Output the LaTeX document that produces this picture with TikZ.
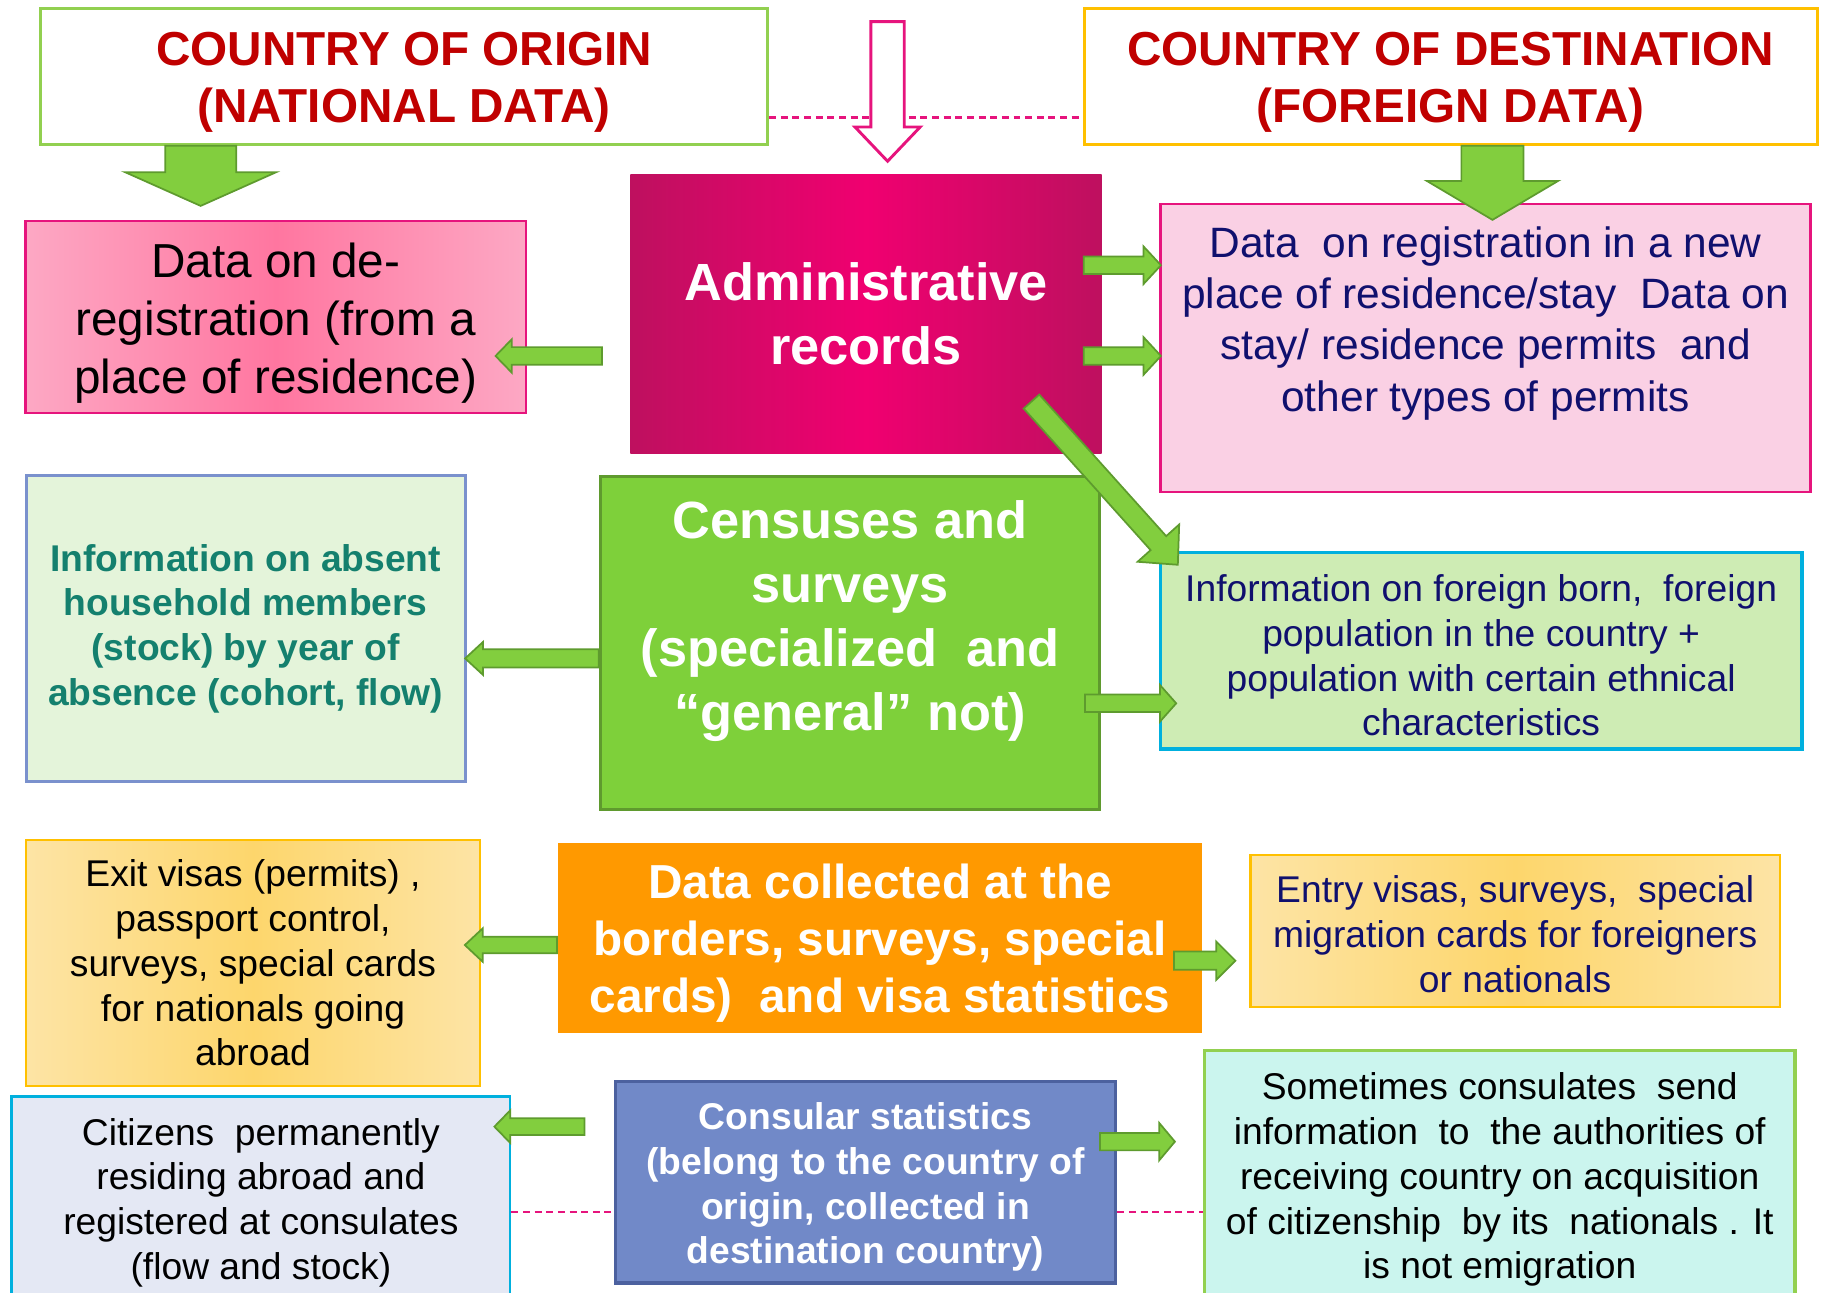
\documentclass[tikz,border=0pt]{standalone}
\usepackage{fontspec}
\setmainfont{Liberation Sans}
\usetikzlibrary{calc}

\definecolor{titlered}{RGB}{192,0,0}
\definecolor{origingreen}{RGB}{146,208,80}
\definecolor{destorange}{RGB}{255,192,0}
\definecolor{pinkline}{RGB}{230,20,125}
\definecolor{deregpink}{RGB}{255,118,160}
\definecolor{dereglight}{RGB}{253,168,196}
\definecolor{admindark}{RGB}{190,16,95}
\definecolor{adminbright}{RGB}{240,0,112}
\definecolor{regpink}{RGB}{250,208,228}
\definecolor{navytext}{RGB}{16,16,110}
\definecolor{absentfill}{RGB}{228,244,218}
\definecolor{absentblue}{RGB}{122,145,205}
\definecolor{tealtext}{RGB}{20,128,110}
\definecolor{censusgreen}{RGB}{126,208,58}
\definecolor{censusedge}{RGB}{95,154,46}
\definecolor{foreignfill}{RGB}{206,236,180}
\definecolor{cyanedge}{RGB}{0,176,222}
\definecolor{visalight}{RGB}{253,228,165}
\definecolor{visadeep}{RGB}{253,214,108}
\definecolor{bordorange}{RGB}{255,153,0}
\definecolor{citizenfill}{RGB}{228,232,244}
\definecolor{consularblue}{RGB}{113,137,200}
\definecolor{consularedge}{RGB}{76,97,159}
\definecolor{aquafill}{RGB}{203,245,238}
\definecolor{arrowfill}{RGB}{130,206,62}
\definecolor{arrowedge}{RGB}{94,155,46}

\tikzset{
  box/.style={draw, line width=2pt, align=center, inner sep=0pt},
  titletext/.style={font=\fontsize{41}{49}\selectfont\bfseries, text=titlered, align=center},
  bodytext/.style={font=\fontsize{32}{38.5}\selectfont, align=center},
  bodybold/.style={font=\fontsize{32}{38.5}\selectfont\bfseries, align=center},
  bigwhite/.style={font=\fontsize{45}{55}\selectfont\bfseries, text=white, align=center},
  greenarrow/.style={draw=arrowedge, fill=arrowfill, line width=1.5pt, line join=miter},
  pinkarrow/.style={draw=pinkline, fill=white, line width=2.5pt},
  pinkdash/.style={draw=pinkline, line width=1.8pt, dash pattern=on 6pt off 4pt}
}

% block arrow: [style]{tail}{tip}{shaft half width}{head half width}{head length}
\newcommand{\blockarrow}[6][]{%
  \coordinate (hb) at ($(#3)!#6pt!(#2)$);
  \draw[greenarrow,#1] ($(#2)!#4pt!90:(#3)$) -- ($(hb)!#4pt!90:(#3)$)
    -- ($(hb)!#5pt!90:(#3)$) -- (#3) -- ($(hb)!#5pt!-90:(#3)$)
    -- ($(hb)!#4pt!-90:(#3)$) -- ($(#2)!#4pt!-90:(#3)$) -- cycle;}

\begin{document}
\begin{tikzpicture}[x=1pt, y=-1pt]
\useasboundingbox (0,0) rectangle (1568,1111.5);

% Countries
\node[box, draw=origingreen, line width=2.5pt, minimum width=625pt, minimum height=117pt] (origin) at (347.5,65.5) {};
\node[titletext] (origintext) at ($(origin)+(0,5)$) {COUNTRY OF ORIGIN\\(NATIONAL DATA)};
\node[box, draw=destorange, line width=2.5pt, minimum width=630pt, minimum height=117pt] (dest) at (1247,65.5) {};
\node[titletext] (desttext) at ($(dest)+(0,5)$) {COUNTRY OF DESTINATION\\(FOREIGN DATA)};

\coordinate (dashtop) at (0,101);
\draw[pinkdash] (origin.east |- dashtop) -- (dest.west |- dashtop);

% Administrative records
\node[box, draw=pinkline, left color=dereglight, right color=dereglight, middle color=deregpink, minimum width=430pt, minimum height=165pt] (dereg) at (237,272.5) {};
\node[font=\fontsize{41}{50}\selectfont, align=center] (deregtext) at ($(dereg)+(0,5.5)$) {Data on de-\\registration (from a\\place of residence)};
\node[minimum width=405pt, minimum height=240pt, inner sep=0pt, left color=admindark, right color=admindark, middle color=adminbright, bigwhite] (admin) at (744.5,270) {Administrative\\records};
\node[box, draw=pinkline, fill=regpink, minimum width=559pt, minimum height=247.6pt] (reg) at (1277,299.4) {};
\node[font=\fontsize{36.5}{44}\selectfont, text=navytext, align=center] (regtext) at (1277,278) {Data~ on registration in a new\\place of residence/stay~ Data on\\stay/ residence permits~ and\\other types of permits};

% Censuses and surveys
\node[box, draw=absentblue, line width=2.5pt, fill=absentfill, minimum width=377.6pt, minimum height=263pt, bodybold, text=tealtext] (absent) at (211.2,540.5) {Information on absent\\household members\\(stock) by year of\\absence (cohort, flow)};
\node[box, draw=censusedge, line width=2.5pt, fill=censusgreen, minimum width=429.5pt, minimum height=286.5pt] (census) at (730.75,553) {};
\node[bigwhite] (censustext) at (730.75,533.5) {Censuses and\\surveys\\(specialized~ and\\“general” not)};
\node[box, draw=cyanedge, line width=3pt, fill=foreignfill, minimum width=551.5pt, minimum height=169.1pt] (foreign) at (1273.25,559.35) {};
\node[bodytext, text=navytext] (foreigntext) at ($(foreign)+(0,4)$) {Information on foreign born,~ foreign\\population in the country +\\population with certain ethnical\\characteristics};

% Borders
\node[box, draw=destorange, left color=visalight, right color=visalight, middle color=visadeep, minimum width=390.2pt, minimum height=211.6pt, bodytext] (exitv) at (217.5,827.8) {Exit visas (permits) ,\\passport control,\\surveys, special cards\\for nationals going\\abroad};
\node[fill=bordorange, inner sep=0pt, minimum width=553pt, minimum height=163.9pt] (datacol) at (756.5,806.35) {};
\node[font=\fontsize{41}{49}\selectfont\bfseries, text=white, align=center] (datacoltext) at ($(datacol)+(0,4)$) {Data collected at the\\borders, surveys, special\\cards)~ and visa statistics};
\node[box, draw=destorange, left color=visalight, right color=visalight, middle color=visadeep, minimum width=455pt, minimum height=130.4pt] (entry) at (1302.5,800.2) {};
\node[bodytext, text=navytext] (entrytext) at ($(entry)+(0,3)$) {Entry visas, surveys,~ special\\migration cards for foreigners\\or nationals};

% Consulates
\node[box, draw=cyanedge, fill=citizenfill, minimum width=428.6pt, minimum height=182.3pt, bodytext] (citizens) at (224.3,1033.85) {Citizens~ permanently\\residing abroad and\\registered at consulates\\(flow and stock)};
\node[box, draw=consularedge, line width=3pt, fill=consularblue, minimum width=430pt, minimum height=173.2pt] (consular) at (744,1016.4) {};
\node[bodybold, text=white] (consulartext) at ($(consular)+(0,4)$) {Consular statistics\\(belong to the country of\\origin, collected in\\destination country)};
\node[box, draw=origingreen, line width=3pt, fill=aquafill, minimum width=507.5pt, minimum height=221.8pt, bodytext] (sometimes) at (1289.25,1014.1) {Sometimes consulates~ send\\information~ to~ the authorities of\\receiving country on acquisition\\of citizenship~ by its~ nationals . It\\is not emigration};

\coordinate (dashlow) at (0,1041.6);
\draw[pinkdash] (citizens.east |- dashlow) -- (consular.west |- dashlow);
\draw[pinkdash] (consular.east |- dashlow) -- (sometimes.west |- dashlow);

% Arrows
\coordinate (top) at (763,18.6);
\coordinate (admtip) at ($(admin.north)+(18.5,-11.2)$);
\blockarrow[pinkarrow]{top}{admtip}{14.3}{28}{29.4}

\coordinate (orgS) at ($(origin.south)+(-175,0)$);
\coordinate (deregN) at ($(dereg.north)+(-64.5,-12)$);
\blockarrow{orgS}{deregN}{30.5}{65}{29}
\coordinate (destS) at ($(dest.south)+(36,0)$);
\coordinate (regN) at ($(reg.north)+(6,14.4)$);
\blockarrow{destS}{regN}{26.75}{56.5}{33.5}

\coordinate (admW) at ($(admin.west)+(-24.4,36)$);
\coordinate (deregE) at ($(dereg.east)+(-27,33.5)$);
\blockarrow{admW}{deregE}{7.6}{14.4}{14}
\coordinate (admE1) at ($(admin.east)+(-15.5,-42)$);
\coordinate (regW1) at ($(reg.west)+(1.5,-71.4)$);
\blockarrow{admE1}{regW1}{7.5}{16.2}{15}
\coordinate (admE2) at ($(admin.east)+(-15.5,36)$);
\coordinate (regW2) at ($(reg.west)+(1.5,6.6)$);
\blockarrow{admE2}{regW2}{7.5}{16.2}{15}
\coordinate (admSE) at ($(admin.south east)+(-60.5,-45)$);
\coordinate (forNW) at ($(foreign.north west)+(16.5,12.2)$);
\blockarrow{admSE}{forNW}{9}{24}{25}

\coordinate (cenW) at ($(census.west)+(0,13)$);
\coordinate (absE) at ($(absent.east)+(-1.4,25.5)$);
\blockarrow{cenW}{absE}{7.8}{14.2}{15.4}
\coordinate (cenE) at ($(census.east)+(-14,51.6)$);
\coordinate (forW) at ($(foreign.west)+(15.1,45.25)$);
\blockarrow{cenE}{forW}{7.5}{15.8}{14}

\coordinate (datW) at ($(datacol.west)+(-1,6.05)$);
\coordinate (exitE) at ($(exitv.east)+(-14,-15.4)$);
\blockarrow{datW}{exitE}{7.1}{14.4}{15.4}
\coordinate (datE) at ($(datacol.east)+(-24,19.45)$);
\coordinate (entW) at ($(entry.west)+(-12,25.6)$);
\blockarrow{datE}{entW}{7.9}{16.5}{16.5}

\coordinate (conW) at ($(consular.west)+(-25,-47.9)$);
\coordinate (citE) at ($(citizens.east)+(-14.6,-65.35)$);
\blockarrow{conW}{citE}{7.2}{14}{13.6}
\coordinate (conE) at ($(consular.east)+(-15,-35)$);
\coordinate (somW) at ($(sometimes.west)+(-24,-32.7)$);
\blockarrow{conE}{somW}{7.5}{16.1}{13.5}
\end{tikzpicture}
\end{document}
